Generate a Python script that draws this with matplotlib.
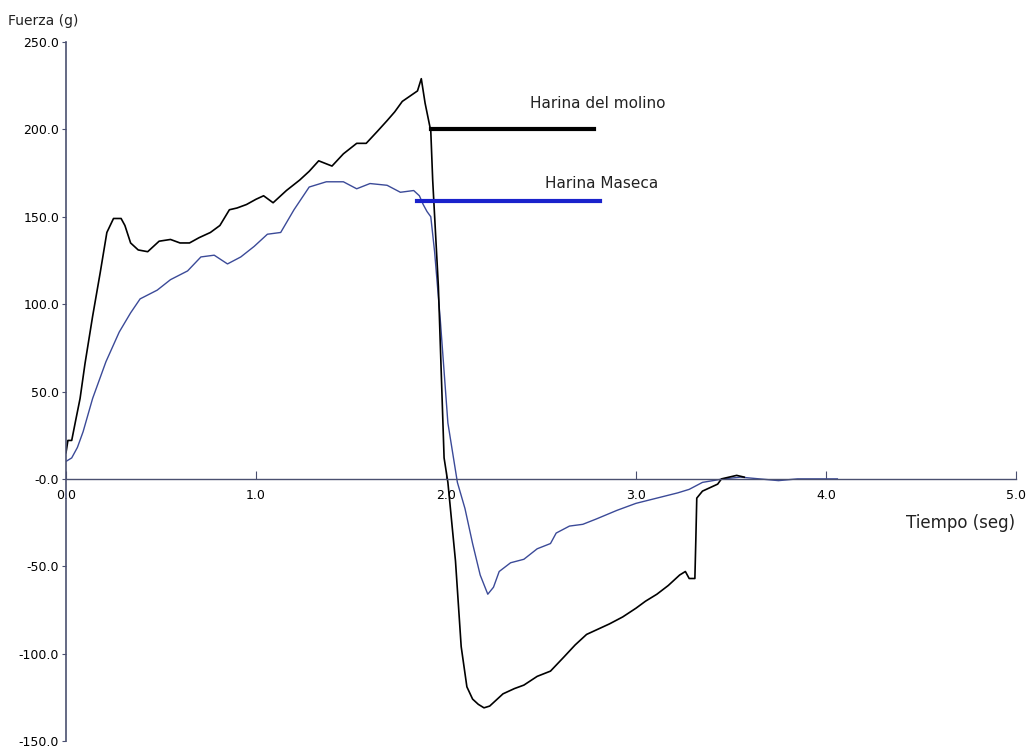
import matplotlib
matplotlib.use("Agg")
import matplotlib.pyplot as plt

# Harina del molino (black trace)
molino_t = [0.00, 0.01, 0.03, 0.05, 0.074, 0.10, 0.14, 0.18, 0.215, 0.25, 0.29, 0.31, 0.34,
            0.38, 0.43, 0.49, 0.55, 0.60, 0.65, 0.70, 0.76, 0.81, 0.86, 0.90, 0.95, 1.00,
            1.04, 1.09, 1.13, 1.16, 1.23, 1.28, 1.33, 1.40, 1.46, 1.53, 1.58, 1.64, 1.69,
            1.73, 1.77, 1.81, 1.85, 1.87, 1.89, 1.92, 1.93, 1.96, 1.99, 2.01, 2.05, 2.08,
            2.11, 2.14, 2.17, 2.20, 2.23, 2.30, 2.36, 2.41, 2.48, 2.55, 2.62, 2.68, 2.74,
            2.80, 2.86, 2.93, 3.00, 3.05, 3.11, 3.17, 3.23, 3.26, 3.28, 3.31, 3.315, 3.32,
            3.35, 3.39, 3.43, 3.45, 3.49, 3.53, 3.57]
molino_f = [15, 22, 22, 33, 46, 66, 93, 118, 141, 149, 149, 145, 135,
            131, 130, 136, 137, 135, 135, 138, 141, 145, 154, 155, 157, 160,
            162, 158, 162, 165, 171, 176, 182, 179, 186, 192, 192, 199, 205,
            210, 216, 219, 222, 229, 215, 199, 171, 110, 12, -2, -47, -96,
            -119, -126, -129, -131, -130, -123, -120, -118, -113, -110, -102, -95, -89,
            -86, -83, -79, -74, -70, -66, -61, -55, -53, -57, -57, -35, -11,
            -7, -5, -3, 0, 1, 2, 1]

# Harina Maseca (blue trace)
maseca_t = [0.00, 0.03, 0.06, 0.09, 0.14, 0.21, 0.28, 0.34, 0.39, 0.48, 0.55, 0.64,
            0.71, 0.78, 0.85, 0.92, 0.99, 1.06, 1.13, 1.20, 1.28, 1.37, 1.46, 1.53,
            1.60, 1.69, 1.76, 1.83, 1.86, 1.88, 1.90, 1.92, 1.94, 1.97, 2.01, 2.06,
            2.10, 2.14, 2.18, 2.22, 2.25, 2.28, 2.34, 2.41, 2.48, 2.55, 2.58, 2.65,
            2.72, 2.79, 2.90, 3.00, 3.11, 3.22, 3.28, 3.35, 3.46, 3.55, 3.65, 3.75,
            3.85, 3.95, 4.06]
maseca_f = [10, 12, 18, 27, 46, 67, 84, 95, 103, 108, 114, 119,
            127, 128, 123, 127, 133, 140, 141, 154, 167, 170, 170, 166,
            169, 168, 164, 165, 162, 157, 153, 150, 130, 91, 32, -2,
            -17, -37, -55, -66, -62, -53, -48, -46, -40, -37, -31, -27,
            -26, -23, -18, -14, -11, -8, -6, -2, 0, 1, 0, -1,
            0, 0, 0]

# labelled marker lines
legend_names = ["Harina del molino", "Harina Maseca"]
legend_x = [(1.92, 2.78), (1.85, 2.81)]
legend_y = [200, 159]
legend_text_pos = [(2.44, 215), (2.52, 169)]

x_ticks = [0.0, 1.0, 2.0, 3.0, 4.0, 5.0]
y_ticks = [-150, -100, -50, 0, 50, 100, 150, 200, 250]

axis_col = "#4a5070"

fig = plt.figure(figsize=(10.33, 7.47), dpi=100)
ax = fig.add_axes([0.0639, 0.008, 0.9196, 0.9358])

ax.plot(maseca_t, maseca_f, color="#3b4a98", lw=1.0)
ax.plot(molino_t, molino_f, color="black", lw=1.2)

ax.plot(legend_x[0], [legend_y[0]] * 2, color="black", lw=3)
ax.plot(legend_x[1], [legend_y[1]] * 2, color="#1a22cc", lw=3)
for name, (tx, ty) in zip(legend_names, legend_text_pos):
    ax.text(tx, ty, name, fontsize=11, color="#222222", va="center")

ax.set_xlim(0, 5)
ax.set_ylim(-150, 250)
ax.spines["top"].set_visible(False)
ax.spines["right"].set_visible(False)
ax.spines["bottom"].set_position(("data", 0))
ax.spines["left"].set_color(axis_col)
ax.spines["bottom"].set_color(axis_col)
ax.spines["left"].set_linewidth(1.2)
ax.spines["bottom"].set_linewidth(1.0)

ax.set_xticks(x_ticks)
ax.set_xticklabels([f"{v:.1f}" for v in x_ticks])
ax.set_yticks(y_ticks)
ax.set_yticklabels(["-0.0" if v == 0 else f"{v:.1f}" for v in y_ticks])
ax.tick_params(axis="x", direction="in", length=6, color=axis_col, labelsize=9, pad=7)
ax.tick_params(axis="y", direction="out", length=3, color=axis_col, labelsize=9, pad=2)

fig.text(0.008, 0.972, "Fuerza (g)", fontsize=10, color="#222222", va="center")
fig.text(0.983, 0.300, "Tiempo (seg)", fontsize=12, color="#222222", va="center", ha="right")

fig.savefig("out.png", dpi=100)
